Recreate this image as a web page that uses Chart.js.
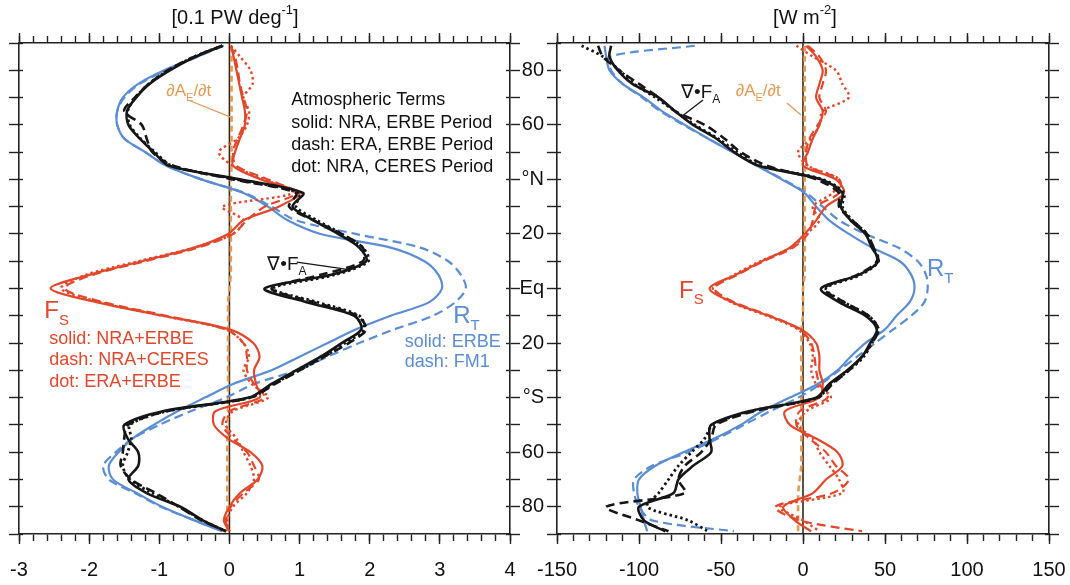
<!DOCTYPE html>
<html><head><meta charset="utf-8">
<script src="https://cdn.jsdelivr.net/npm/chart.js@4.4.1/dist/chart.umd.min.js"></script>
<style>
html,body{margin:0;padding:0;background:#fff;width:1070px;height:585px;overflow:hidden;position:relative}
canvas{position:absolute;top:0}
</style></head>
<body>
<canvas id="cL" width="530" height="585" style="left:0px"></canvas>
<canvas id="cR" width="570" height="585" style="left:500px"></canvas>
<script>
// ---------- DATA ----------
const LATS = [89,85,80,75,70,65,60,55,50,45,40,35,30,25,20,15,10,5,0,-5,-10,-15,-20,-25,-30,-35,-40,-45,-50,-55,-60,-65,-70,-75,-80,-85,-89];
const ZERO_LATS = [-90, 90];
const ZERO_VALS = [0, 0];

// Left panel [0.1 PW deg-1]
const RT_ERBE_L = [-0.1,-0.46,-0.93,-1.3,-1.52,-1.6,-1.6,-1.5,-1.2,-0.9,-0.4,0.2,0.55,0.83,1.3,2.3,2.78,2.98,3.03,2.85,2.3,1.8,1.4,1.0,0.6,0.05,-0.35,-0.74,-1.08,-1.38,-1.58,-1.72,-1.66,-1.32,-0.96,-0.5,-0.1];
const RT_FM1_L  = [-0.08,-0.45,-0.9,-1.28,-1.5,-1.6,-1.6,-1.5,-1.2,-0.9,-0.4,0.22,0.6,0.95,1.8,2.72,3.12,3.3,3.37,3.22,2.9,2.35,1.85,1.4,0.96,0.35,-0.05,-0.55,-1.0,-1.38,-1.62,-1.8,-1.72,-1.35,-0.98,-0.5,-0.1];
const DIV_NRA_ERBE_L = [-0.1,-0.48,-0.85,-1.14,-1.33,-1.46,-1.44,-1.28,-1.08,-0.86,0.15,1.05,0.9,1.2,1.55,1.85,1.95,1.45,0.5,1.1,1.78,1.88,1.6,1.3,0.95,0.6,0.28,-0.95,-1.5,-1.45,-1.3,-1.3,-1.44,-1.18,-0.7,-0.38,-0.05];
const DIV_ERA_ERBE_L = [-0.1,-0.5,-0.88,-1.15,-1.35,-1.5,-1.25,-1.18,-1.1,-0.8,0.05,0.95,0.85,1.2,1.6,1.9,1.9,1.3,0.6,1.2,1.82,1.95,1.7,1.35,1.0,0.65,0.3,-0.9,-1.45,-1.5,-1.52,-1.55,-1.4,-1.05,-0.72,-0.4,-0.05];
const DIV_NRA_CERES_L = [-0.1,-0.5,-0.87,-1.15,-1.34,-1.45,-1.42,-1.27,-1.06,-0.82,0.1,1.0,0.95,1.25,1.6,1.9,1.98,1.5,0.62,1.25,1.85,1.92,1.65,1.35,1.0,0.62,0.3,-0.9,-1.42,-1.4,-1.45,-1.52,-1.42,-1.1,-0.72,-0.38,-0.05];
const FS_NRA_ERBE_L = [0.02,0.06,0.1,0.14,0.18,0.22,0.22,0.15,0.08,0.05,0.45,1.0,0.7,0.2,-0.02,-0.5,-1.25,-2.0,-2.55,-1.9,-0.95,0.0,0.34,0.43,0.35,0.38,0.43,-0.2,-0.22,-0.02,0.3,0.47,0.4,0.15,0.0,-0.08,0.0];
const FS_NRA_CERES_L = [0.02,0.08,0.12,0.15,0.2,0.25,0.2,0.12,0.05,0.1,0.55,0.95,0.5,0.25,0.05,-0.45,-1.2,-1.95,-2.35,-1.8,-0.9,-0.05,0.2,0.25,0.25,0.35,0.5,0.0,-0.1,0.05,0.25,0.35,0.42,0.2,0.02,-0.05,0.0];
const FS_ERA_ERBE_L = [0.02,0.15,0.3,0.33,0.2,0.28,0.25,0.12,-0.15,0.05,0.5,0.9,-0.1,0.2,0.05,-0.5,-1.3,-2.05,-2.4,-1.85,-0.95,-0.05,0.2,0.28,0.2,0.32,0.55,0.05,-0.05,0.1,0.2,0.3,0.35,0.25,0.05,-0.03,0.0];
const DAE_L = [0.03,0.03,0.03,0.03,0.03,0.03,0.03,0.03,0.03,0.03,0.02,0.02,0.02,0.02,0.02,0.02,0.02,0.02,0.0,-0.02,-0.02,-0.02,-0.02,-0.02,-0.02,-0.02,-0.02,-0.02,-0.03,-0.03,-0.03,-0.03,-0.03,-0.03,-0.03,-0.03,-0.03];

// Right panel [W m-2]
const RT_ERBE_R = [-121,-120,-118,-110,-97,-86,-72,-58,-43,-28,-13,1,8,16,28,42,59,66,68,65,57,50,38,29,21,9,-8,-25,-38,-54,-73,-90,-100,-101,-99,-97,-95];
const RT_FM1_R  = [-66,-118,-117,-110,-98,-87,-73,-58,-43,-28,-12,2,12,22,38,58,70,75,76,74,66,55,44,33,22,11,-3,-20,-36,-52,-70,-92,-103,-103,-100,-92,-42];
const DIV_NRA_ERBE_R = [-117,-118,-113,-104,-88,-78,-67,-53,-42,-27,11,24,23,29,38,42,46,34,11,22,38,45,41,36,27,16,8,-33,-56,-57,-56,-67,-76,-79,-100,-97,-84];
const DIV_ERA_ERBE_R = [-125,-122,-112,-100,-88,-78,-60,-48,-38,-22,8,22,22,30,39,43,45,33,13,25,40,46,42,36,28,18,9,-30,-53,-56,-62,-72,-76,-72,-120,-100,-82];
const DIV_NRA_CERES_R = [-135,-122,-112,-103,-90,-78,-66,-52,-40,-26,12,25,24,30,39,43,46,35,14,25,40,46,42,37,28,17,9,-32,-55,-60,-68,-76,-82,-88,-95,-70,-58];
const FS_NRA_ERBE_R = [2,8,12,10,8,12,10,6,3,0,20,25,14,8,1,-8,-25,-41,-57,-43,-21,-1,8,10,10,12,10,-11,-8,8,21,24,14,6,-12,-5,5];
const FS_NRA_CERES_R = [3,10,14,12,10,14,9,4,2,3,22,22,8,6,3,-6,-24,-40,-54,-42,-20,-2,5,7,8,10,15,-2,-4,4,14,20,28,18,-17,-2,36];
const FS_ERA_ERBE_R = [-4,6,20,24,28,12,10,5,-3,3,22,18,6,10,2,-7,-26,-42,-55,-44,-22,-3,4,6,5,8,17,2,-3,6,10,16,22,24,-14,0,10];
const DAE_R = [1,1,1,1,1,1,1,1,1,1,1,1,1,1,1,1,1,1,0,0,0,-1,-1,-1,-1,-1,-1,-1,-1,-1,-1,-1,-2,-3,-3,-3,-3];

// Tick labels
const Y_TICK_VALUES = [80,60,40,20,0,-20,-40,-60,-80];
const Y_TICK_TEXT = ['80','60','°N','20','Eq','20','°S','60','80'];

// ---------- STYLE ----------
const FONT = '"Liberation Sans", Arial, Helvetica, sans-serif';
const AX = '#222';
const RED = '#e2472b', BLUE = '#5a8dd4', BLACK = '#161616', ORANGE = '#e39b55', ZEROC = '#3a2412';
const DASH = [9,5], DOT = [2.5,3];

function ser(vals, lats, color, width, dash, tension) {
  return {
    data: lats.map((la, i) => ({x: vals[i], y: la})),
    borderColor: color, borderWidth: width, borderDash: dash || [],
    pointRadius: 0, pointHoverRadius: 0, showLine: true, fill: false,
    tension: tension === undefined ? 0.3 : tension
  };
}

function isMult(v, s) { const q = v / s; return Math.abs(q - Math.round(q)) < 1e-6; }
function noPad(s) { s.paddingLeft = 0; s.paddingRight = 0; s.paddingTop = 0; s.paddingBottom = 0; }

function makeScales(c) {
  const tickFont = {family: FONT, size: 20};
  const gb = {drawOnChartArea: false, drawTicks: true, color: AX, tickColor: AX, tickWidth: 1.4};
  const border = {display: true, color: AX, width: 1.6};
  return {
    x: {type: 'linear', position: 'bottom', min: c.xmin, max: c.xmax, border,
        grid: {...gb, tickLength: 7},
        ticks: {stepSize: c.minor, autoSkip: false, maxRotation: 0, minRotation: 0, padding: 17, color: '#111', font: tickFont,
                callback: v => isMult(v, c.major) ? String(Math.round(v)) : ''},
        afterFit: s => { s.height = 51; noPad(s); }},
    x2: {type: 'linear', position: 'top', min: c.xmin, max: c.xmax, border,
        grid: {...gb, tickLength: 7},
        ticks: {stepSize: c.minor, autoSkip: false, display: false},
        afterFit: s => { s.height = 43; noPad(s); }},
    xMB: {type: 'linear', axis: 'x', position: {y: -90}, min: c.xmin, max: c.xmax, border: {display: false},
        grid: {...gb, tickLength: 10}, ticks: {stepSize: c.major, autoSkip: false, display: false},
        afterFit: s => { noPad(s); }},
    xMT: {type: 'linear', axis: 'x', position: {y: 90}, min: c.xmin, max: c.xmax, border: {display: false},
        grid: {...gb, tickLength: -10}, ticks: {stepSize: c.major, autoSkip: false, display: false},
        afterFit: s => { noPad(s); }},
    y: {type: 'linear', position: 'left', min: -90, max: 90, border,
        grid: {...gb, tickLength: 10},
        ticks: {stepSize: 10, autoSkip: false, display: c.yLabels, padding: 3, color: '#111', font: tickFont,
                callback: v => { const k = Y_TICK_VALUES.indexOf(Math.round(v)); return k >= 0 ? Y_TICK_TEXT[k] : ''; }},
        afterFit: s => { s.width = c.leftW; noPad(s); }},
    y2: {type: 'linear', position: 'right', min: -90, max: 90, border,
        grid: {...gb, tickLength: 10},
        ticks: {stepSize: 10, autoSkip: false, display: false},
        afterFit: s => { s.width = c.rightW; noPad(s); }},
    yIL: {type: 'linear', axis: 'y', position: {x: c.xmin}, min: -90, max: 90, border: {display: false},
        grid: {...gb, tickLength: -4}, ticks: {stepSize: 10, autoSkip: false, display: false},
        afterFit: s => { noPad(s); }},
    yIR: {type: 'linear', axis: 'y', position: {x: c.xmax}, min: -90, max: 90, border: {display: false},
        grid: {...gb, tickLength: 4}, ticks: {stepSize: 10, autoSkip: false, display: false},
        afterFit: s => { noPad(s); }}
  };
}

function drawRich(ctx, x, y, parts, align, color, size) {
  const items = parts.map(p => {
    const k = Array.isArray(p) ? p[1] : 'n';
    const t = Array.isArray(p) ? p[0] : p;
    const s = k === 'n' ? size : Math.round(size * 0.64);
    return {t, k, font: s + 'px ' + FONT};
  });
  let total = 0;
  items.forEach(it => { ctx.font = it.font; it.w = ctx.measureText(it.t).width; total += it.w; });
  let cx = align === 'center' ? x - total / 2 : (align === 'right' ? x - total : x);
  ctx.fillStyle = color; ctx.textBaseline = 'middle'; ctx.textAlign = 'left';
  items.forEach(it => {
    ctx.font = it.font;
    const dy = it.k === 'sub' ? size * 0.38 : (it.k === 'sup' ? -size * 0.38 : 0);
    ctx.fillText(it.t, cx, y + dy);
    cx += it.w;
  });
}

function makeAnnot(spec) {
  return {
    id: 'annot',
    afterDatasetsDraw(chart) {
      const ctx = chart.ctx, xs = chart.scales.x, ys = chart.scales.y;
      ctx.save();
      (spec.lines || []).forEach(l => {
        ctx.beginPath(); ctx.strokeStyle = l.color; ctx.lineWidth = l.width || 1.2;
        ctx.moveTo(xs.getPixelForValue(l.x1), ys.getPixelForValue(l.y1));
        ctx.lineTo(xs.getPixelForValue(l.x2), ys.getPixelForValue(l.y2));
        ctx.stroke();
      });
      (spec.texts || []).forEach(t => {
        const px = xs.getPixelForValue(t.x);
        const py = t.py !== undefined ? t.py : ys.getPixelForValue(t.lat);
        drawRich(ctx, px, py, t.parts, t.align || 'left', t.color, t.size);
      });
      ctx.restore();
    }
  };
}

function build(canvasId, sets, scaleCfg, annot) {
  return new Chart(document.getElementById(canvasId), {
    type: 'scatter',
    data: {datasets: sets},
    options: {
      responsive: false, animation: false, devicePixelRatio: 1,
      layout: {padding: 0},
      plugins: {legend: {display: false}, tooltip: {enabled: false}, title: {display: false}},
      events: [],
      scales: makeScales(scaleCfg)
    },
    plugins: [makeAnnot(annot)]
  });
}

// ---------- LEFT PANEL ----------
build('cL', [
  ser(DIV_NRA_ERBE_L, LATS, BLACK, 2.6),
  ser(DIV_ERA_ERBE_L, LATS, BLACK, 2.6, DASH),
  ser(DIV_NRA_CERES_L, LATS, BLACK, 2.8, DOT),
  ser(FS_NRA_ERBE_L, LATS, RED, 2.2),
  ser(FS_NRA_CERES_L, LATS, RED, 2.2, DASH),
  ser(FS_ERA_ERBE_L, LATS, RED, 2.4, DOT),
  ser(RT_ERBE_L, LATS, BLUE, 2.2),
  ser(RT_FM1_L, LATS, BLUE, 2.2, DASH),
  ser(DAE_L, LATS, ORANGE, 2.6, [6,4], 0),
  ser(ZERO_VALS, ZERO_LATS, ZEROC, 1.6, [], 0)
], {xmin: -3, xmax: 4, minor: 0.2, major: 1, leftW: 19, rightW: 20, yLabels: false}, {
  lines: [
    {x1: -0.59, y1: 69.1, x2: 0.01, y2: 62.9, color: ORANGE, width: 1.3},
    {x1: 0.96, y1: 9.7, x2: 1.73, y2: 6.8, color: BLACK, width: 1.3}
  ],
  texts: [
    {x: 0.08, py: 18, align: 'center', color: '#111', size: 20, parts: ['[0.1 PW deg', ['-1', 'sup'], ']']},
    {x: 0.88, lat: 69.1, color: '#111', size: 18, parts: ['Atmospheric Terms']},
    {x: 0.88, lat: 60.7, color: '#111', size: 18, parts: ['solid: NRA, ERBE Period']},
    {x: 0.88, lat: 52.6, color: '#111', size: 18, parts: ['dash: ERA, ERBE Period']},
    {x: 0.88, lat: 44.5, color: '#111', size: 18, parts: ['dot: NRA, CERES Period']},
    {x: -0.9, lat: 72.2, color: ORANGE, size: 17, parts: ['∂A', ['E', 'sub'], '/∂t']},
    {x: 0.54, lat: 8.8, color: BLACK, size: 19, parts: ['∇•F', ['A', 'sub']]},
    {x: -2.64, lat: -8.4, color: RED, size: 24, parts: ['F', ['S', 'sub']]},
    {x: -2.57, lat: -18.5, color: RED, size: 18, parts: ['solid: NRA+ERBE']},
    {x: -2.57, lat: -26.2, color: RED, size: 18, parts: ['dash: NRA+CERES']},
    {x: -2.57, lat: -34.3, color: RED, size: 18, parts: ['dot: ERA+ERBE']},
    {x: 3.19, lat: -10.2, color: BLUE, size: 24, parts: ['R', ['T', 'sub']]},
    {x: 2.5, lat: -19.6, color: BLUE, size: 18, parts: ['solid: ERBE']},
    {x: 2.5, lat: -27.0, color: BLUE, size: 18, parts: ['dash: FM1']}
  ]
});

// ---------- RIGHT PANEL ----------
build('cR', [
  ser(DIV_NRA_ERBE_R, LATS, BLACK, 2.6),
  ser(DIV_ERA_ERBE_R, LATS, BLACK, 2.6, DASH),
  ser(DIV_NRA_CERES_R, LATS, BLACK, 2.8, DOT),
  ser(FS_NRA_ERBE_R, LATS, RED, 2.2),
  ser(FS_NRA_CERES_R, LATS, RED, 2.2, DASH),
  ser(FS_ERA_ERBE_R, LATS, RED, 2.4, DOT),
  ser(RT_ERBE_R, LATS, BLUE, 2.2),
  ser(RT_FM1_R, LATS, BLUE, 2.2, DASH),
  ser(DAE_R, LATS, ORANGE, 2.6, [6,4], 0),
  ser(ZERO_VALS, ZERO_LATS, ZEROC, 1.6, [], 0)
], {xmin: -150, xmax: 150, minor: 10, major: 50, leftW: 57, rightW: 21, yLabels: true}, {
  lines: [
    {x1: -61, y1: 69.1, x2: -74.4, y2: 62.9, color: BLACK, width: 1.3},
    {x1: -9.8, y1: 68, x2: -1.2, y2: 63.6, color: ORANGE, width: 1.3}
  ],
  texts: [
    {x: 1.2, py: 18, align: 'center', color: '#111', size: 20, parts: ['[W m', ['-2', 'sup'], ']']},
    {x: -74.4, lat: 71.9, color: BLACK, size: 19, parts: ['∇•F', ['A', 'sub']]},
    {x: -41, lat: 72.2, color: ORANGE, size: 17, parts: ['∂A', ['E', 'sub'], '/∂t']},
    {x: 75.6, lat: 7.0, color: BLUE, size: 24, parts: ['R', ['T', 'sub']]},
    {x: -75.6, lat: -1.0, color: RED, size: 24, parts: ['F', ['S', 'sub']]}
  ]
});
</script>
</body></html>
